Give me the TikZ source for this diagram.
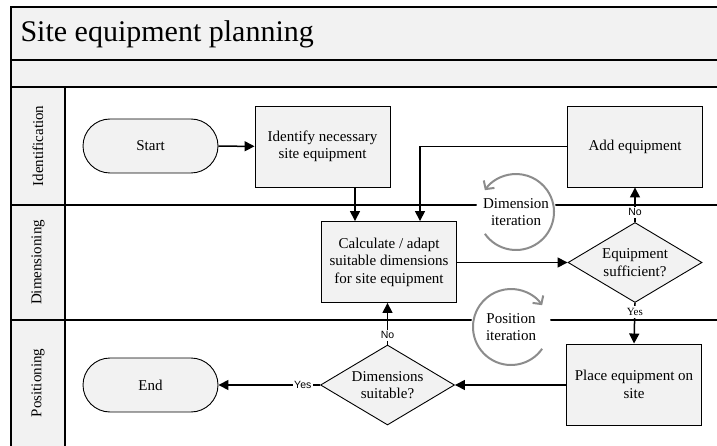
\documentclass[tikz,border=0pt]{standalone}
\usepackage{fontspec}
\setmainfont{Liberation Serif}
\newfontfamily\lsans{Liberation Sans}
\usetikzlibrary{arrows.meta,shapes.geometric}
\definecolor{nodefill}{HTML}{F2F2F2}
\definecolor{itergray}{HTML}{8C8C8C}
\begin{document}
\begin{tikzpicture}[x=1pt,y=-1pt,
  txt/.style={font=\fontsize{15}{17.5}\selectfont},
  box/.style={txt,draw,fill=nodefill,line width=0.9pt,minimum width=135pt,minimum height=81pt,align=center,inner sep=2pt},
  term/.style={txt,draw,fill=nodefill,line width=0.9pt,minimum width=135pt,minimum height=54pt,rounded corners=27pt},
  decision/.style={txt,diamond,draw,fill=nodefill,line width=0.9pt,minimum width=134pt,minimum height=80pt,aspect=1.675,inner sep=0pt,align=center},
  arr/.style={line width=1.5pt,-{Triangle[length=10pt,width=10pt]}},
  lane/.style={line width=1.8pt},
  sans/.style={font=\lsans\fontsize{10.5}{11}\selectfont,fill=white,inner sep=1.5pt},
  serifsmall/.style={font=\fontsize{11}{12}\selectfont,fill=white,inner sep=2pt},
  itnode/.style={txt,circle,fill=white,minimum size=80pt,align=center,inner sep=0pt},
  iter/.style={draw=itergray,line width=2pt,-{Straight Barb[length=6pt,width=13pt]}}
]
\useasboundingbox (0,0) rectangle (717,446);
% bands
\fill[nodefill] (11,7) rectangle (717,87);
\fill[nodefill] (11,87) rectangle (65,446);
\draw[lane] (717,7) -- (11,7) -- (11,446);
\draw[lane] (11,60) -- (717,60);
\draw[lane] (11,87) -- (717,87);
\draw[lane] (11,205) -- (717,205);
\draw[lane] (11,320) -- (717,320);
\draw[lane] (65,87) -- (65,446);
\node[anchor=west,font=\fontsize{30}{33}\selectfont] (title) at (17,34) {Site equipment planning};
\node[txt,rotate=90] (l1) at (38,146) {Identification};
\node[txt,rotate=90] (l2) at (38,262.5) {Dimensioning};
\node[txt,rotate=90] (l3) at (38,383) {Positioning};

% iteration markers
\node[itnode] (dimit) at (516,212) {Dimension\\iteration};
\node[itnode] (posit) at (511,327) {Position\\iteration};
\draw[iter] ([shift={(215:38pt)}]dimit.center) arc[start angle=215,end angle=505,radius=38pt];
\draw[iter] ([shift={(-35:38pt)}]posit.center) arc[start angle=-35,end angle=-325,radius=38pt];

% nodes
\node[term] (start) at (150.5,146) {Start};
\node[box] (ident) at (322.5,146.5) {Identify necessary\\site equipment};
\node[box] (add) at (635,146.5) {Add equipment};
\node[box] (calc) at (389,262) {Calculate / adapt\\suitable dimensions\\for site equipment};
\node[decision] (suff) at (635,262.5) {Equipment\\sufficient?};
\node[box] (place) at (634,384.5) {Place equipment on\\site};
\node[decision] (suit) at (387.5,385) {Dimensions\\suitable?};
\node[term] (end) at (150.5,385) {End};

\coordinate (x1) at (355,0);
\coordinate (x2) at (420,0);

% connectors
\draw[arr] (start) -- (ident);
\draw[arr] (ident.south -| x1) -- (calc.north -| x1);
\draw[arr] (add.west) -| (calc.north -| x2);
\draw[arr] (calc.east |- suff.west) -- (suff.west);
\draw[arr] (suff.north) -- node[sans,pos=0.28] {No} (add.south);
\draw[arr] (suff.south) -- node[serifsmall,pos=0.22] {Yes} (place.north);
\draw[arr] (place.west |- suit.east) -- (suit.east);
\draw[arr] (suit.north) -- node[sans,pos=0.22] {No} (calc.south -| suit.north);
\draw[arr] (suit.west) -- node[sans,pos=0.17] {Yes} (end.east);
\end{tikzpicture}
\end{document}
